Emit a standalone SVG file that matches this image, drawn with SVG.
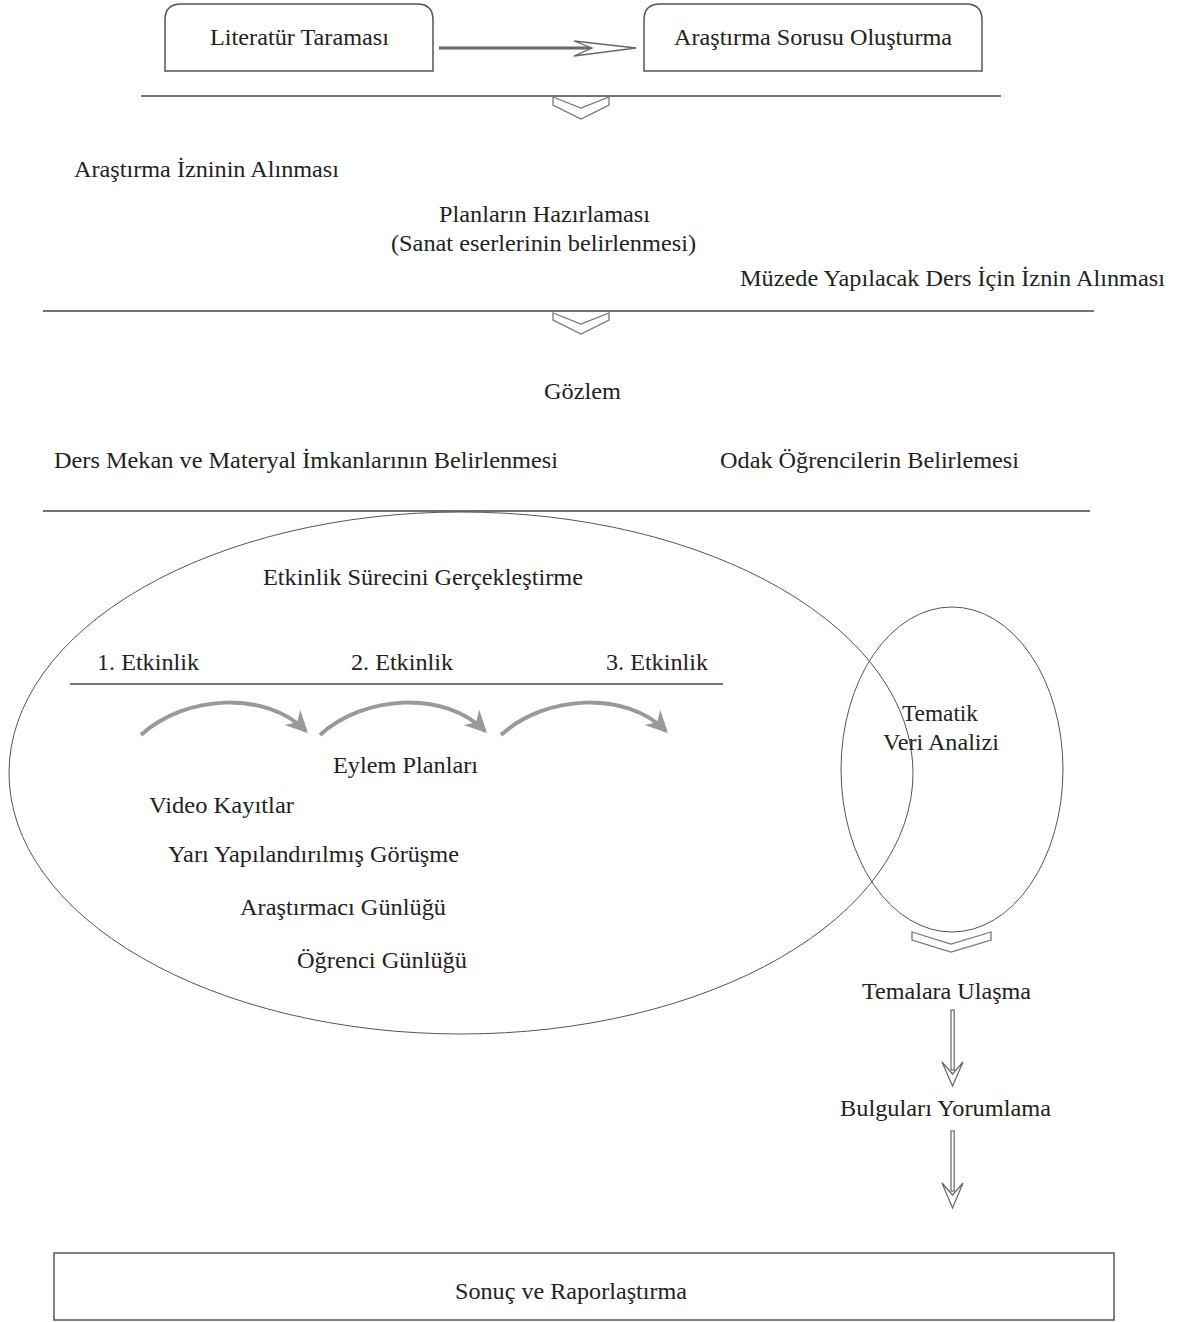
<svg xmlns="http://www.w3.org/2000/svg" width="1184" height="1322" viewBox="0 0 1184 1322">
<defs>
<style>
text{font-family:"Liberation Serif","Times New Roman","DejaVu Serif",serif;font-size:23.5px;fill:#222}
.box{fill:#fff;stroke:#555;stroke-width:1.5}
.rule{stroke:#444;stroke-width:1.6;fill:none}
.chev{fill:#fff;stroke:#777;stroke-width:1.3}
.ell{fill:none;stroke:#555;stroke-width:1}
.curve{fill:none;stroke:#999;stroke-width:4}
.hol{fill:#fff;stroke:#666;stroke-width:1.2}
</style>
<marker id="gh" markerUnits="userSpaceOnUse" markerWidth="22" markerHeight="22" refX="14" refY="8" orient="auto" viewBox="0 0 16 16">
<path d="M0,0 L16,8 L0,16 L5,8 Z" fill="#999"/>
</marker>
</defs>
<rect width="1184" height="1322" fill="#fff"/>

<g id="connectors">
<line x1="439" y1="48" x2="594" y2="48" stroke="#666" stroke-width="3"/>
<path d="M574,41 L636,48 L574,56 L592,48 Z" fill="#fff" stroke="#666" stroke-width="1.3"/>
<line class="rule" x1="141" y1="96" x2="1001" y2="96"/>
<path class="chev" d="M553,97 L581,108 L609,97 L609,105 L581,119 L553,105 Z"/>
<line class="rule" x1="43" y1="311" x2="1094" y2="311"/>
<path class="chev" d="M553,313 L581,324 L609,313 L609,320 L581,334 L553,320 Z"/>
<line class="rule" x1="43" y1="511" x2="1090" y2="511"/>
<line class="rule" x1="70" y1="684" x2="723" y2="684"/>
<path class="curve" d="M141,735 C185,695 265,690 306,731" marker-end="url(#gh)"/>
<path class="curve" d="M320,735 C364,695 444,690 485,731" marker-end="url(#gh)"/>
<path class="curve" d="M501,735 C545,695 625,690 666,731" marker-end="url(#gh)"/>
<path class="chev" d="M912,932 L951,944 L991,932 L991,940 L951,952 L912,940 Z"/>
<rect class="hol" x="951" y="1010" width="3.2" height="60"/>
<path class="hol" d="M942,1062 L952.5,1086 L963,1062 L952.5,1074 Z"/>
<rect class="hol" x="951" y="1131" width="3.2" height="60"/>
<path class="hol" d="M942,1183 L952.5,1208 L963,1183 L952.5,1195 Z"/>
</g>

<g font-family="Liberation Serif, Times New Roman, DejaVu Serif, serif" font-size="23.5" fill="#222">
<g id="n-literatur">
<path class="box" d="M165,71 V20 Q165,4 181,4 H417 Q433,4 433,20 V71 Z"/>
<text x="210" y="45" textLength="179" lengthAdjust="spacingAndGlyphs">Literatür Taraması</text>
</g>
<g id="n-soru">
<path class="box" d="M644,71 V20 Q644,4 660,4 H966 Q982,4 982,20 V71 Z"/>
<text x="674" y="45" textLength="278" lengthAdjust="spacingAndGlyphs">Araştırma Sorusu Oluşturma</text>
</g>
<g id="n-izin">
<text x="74" y="177" textLength="265" lengthAdjust="spacingAndGlyphs">Araştırma İzninin Alınması</text>
</g>
<g id="n-plan">
<text x="439" y="222" textLength="211" lengthAdjust="spacingAndGlyphs">Planların Hazırlaması</text>
<text x="391" y="251" textLength="305" lengthAdjust="spacingAndGlyphs">(Sanat eserlerinin belirlenmesi)</text>
</g>
<g id="n-muze">
<text x="740" y="286" textLength="425" lengthAdjust="spacingAndGlyphs">Müzede Yapılacak Ders İçin İznin Alınması</text>
</g>
<g id="n-gozlem">
<text x="544" y="399" textLength="77" lengthAdjust="spacingAndGlyphs">Gözlem</text>
</g>
<g id="n-mekan">
<text x="54" y="468" textLength="504" lengthAdjust="spacingAndGlyphs">Ders Mekan ve Materyal İmkanlarının Belirlenmesi</text>
</g>
<g id="n-odak">
<text x="720" y="468" textLength="299" lengthAdjust="spacingAndGlyphs">Odak Öğrencilerin Belirlemesi</text>
</g>
<g id="n-etkinlik">
<ellipse class="ell" cx="461" cy="773" rx="452" ry="261"/>
<text x="263" y="585" textLength="320" lengthAdjust="spacingAndGlyphs">Etkinlik Sürecini Gerçekleştirme</text>
<text x="97" y="670" textLength="102" lengthAdjust="spacingAndGlyphs">1. Etkinlik</text>
<text x="351" y="670" textLength="102" lengthAdjust="spacingAndGlyphs">2. Etkinlik</text>
<text x="606" y="670" textLength="102" lengthAdjust="spacingAndGlyphs">3. Etkinlik</text>
<text x="333" y="773" textLength="145" lengthAdjust="spacingAndGlyphs">Eylem Planları</text>
<text x="149" y="813" textLength="145" lengthAdjust="spacingAndGlyphs">Video Kayıtlar</text>
<text x="168" y="862" textLength="291" lengthAdjust="spacingAndGlyphs">Yarı Yapılandırılmış Görüşme</text>
<text x="240" y="915" textLength="206" lengthAdjust="spacingAndGlyphs">Araştırmacı Günlüğü</text>
<text x="297" y="968" textLength="170" lengthAdjust="spacingAndGlyphs">Öğrenci Günlüğü</text>
</g>
<g id="n-tematik">
<ellipse class="ell" cx="952" cy="769.5" rx="111" ry="162.5"/>
<text x="902" y="721" textLength="76" lengthAdjust="spacingAndGlyphs">Tematik</text>
<text x="883" y="750" textLength="116" lengthAdjust="spacingAndGlyphs">Veri Analizi</text>
</g>
<g id="n-temalar">
<text x="862" y="999" textLength="169" lengthAdjust="spacingAndGlyphs">Temalara Ulaşma</text>
</g>
<g id="n-bulgular">
<text x="840" y="1116" textLength="211" lengthAdjust="spacingAndGlyphs">Bulguları Yorumlama</text>
</g>
<g id="n-sonuc">
<rect class="box" x="54" y="1253" width="1060" height="67"/>
<text x="455" y="1299" textLength="232" lengthAdjust="spacingAndGlyphs">Sonuç ve Raporlaştırma</text>
</g>
</g>
</svg>
